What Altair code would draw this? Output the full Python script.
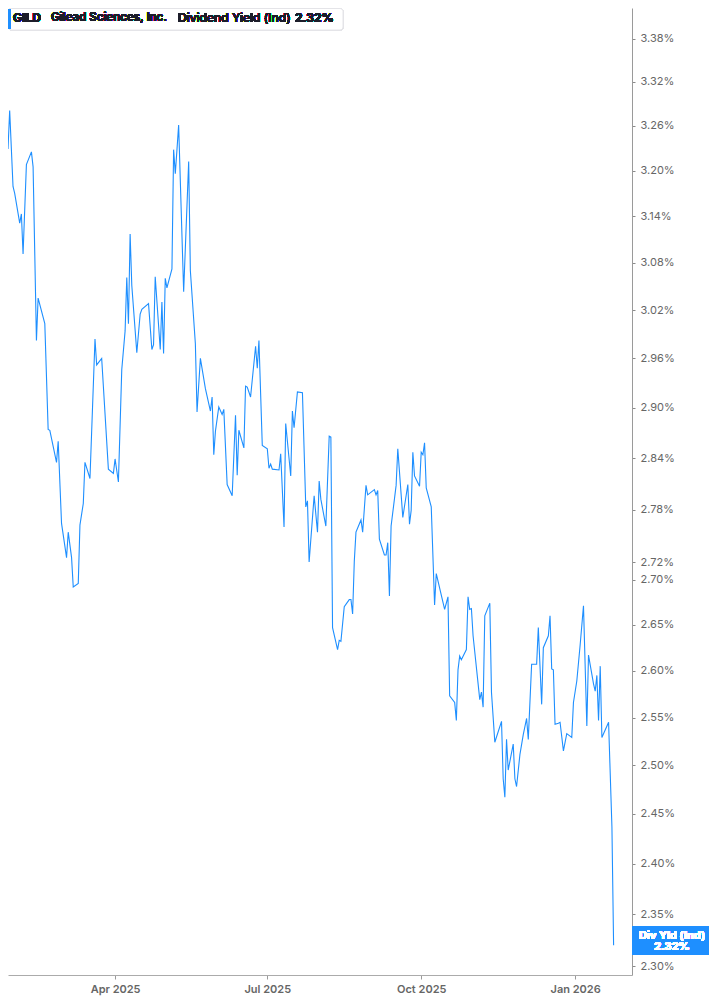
import altair as alt
import pandas as pd

# GILD indicated dividend yield (%)
dates = [
    "2025-01-27", "2025-01-28", "2025-01-30", "2025-01-31", "2025-02-03", "2025-02-04",
    "2025-02-05", "2025-02-07", "2025-02-10", "2025-02-11", "2025-02-13", "2025-02-14",
    "2025-02-18", "2025-02-20", "2025-02-21", "2025-02-25", "2025-02-26", "2025-02-28",
    "2025-03-03", "2025-03-04", "2025-03-06", "2025-03-07", "2025-03-10", "2025-03-11",
    "2025-03-13", "2025-03-14", "2025-03-17", "2025-03-20", "2025-03-21", "2025-03-24",
    "2025-03-28", "2025-03-31", "2025-04-01", "2025-04-03", "2025-04-05", "2025-04-07",
    "2025-04-08", "2025-04-09", "2025-04-10", "2025-04-11", "2025-04-14", "2025-04-16",
    "2025-04-17", "2025-04-21", "2025-04-23", "2025-04-24", "2025-04-25", "2025-04-28",
    "2025-04-29", "2025-04-30", "2025-05-01", "2025-05-02", "2025-05-05", "2025-05-06",
    "2025-05-07", "2025-05-08", "2025-05-09", "2025-05-12", "2025-05-15", "2025-05-16",
    "2025-05-19", "2025-05-20", "2025-05-22", "2025-05-25", "2025-05-28", "2025-05-29",
    "2025-05-30", "2025-05-31", "2025-06-02", "2025-06-04", "2025-06-05", "2025-06-07",
    "2025-06-10", "2025-06-12", "2025-06-13", "2025-06-14", "2025-06-17", "2025-06-18",
    "2025-06-19", "2025-06-21", "2025-06-24", "2025-06-25", "2025-06-26", "2025-06-28",
    "2025-07-01", "2025-07-02", "2025-07-03", "2025-07-04", "2025-07-08", "2025-07-09",
    "2025-07-11", "2025-07-12", "2025-07-15", "2025-07-16", "2025-07-17", "2025-07-19",
    "2025-07-22", "2025-07-24", "2025-07-25", "2025-07-26", "2025-07-29", "2025-07-31",
    "2025-08-01", "2025-08-02", "2025-08-05", "2025-08-07", "2025-08-08", "2025-08-09",
    "2025-08-12", "2025-08-13", "2025-08-14", "2025-08-16", "2025-08-19", "2025-08-20",
    "2025-08-21", "2025-08-22", "2025-08-23", "2025-08-26", "2025-08-27", "2025-08-29",
    "2025-08-30", "2025-09-03", "2025-09-04", "2025-09-05", "2025-09-06", "2025-09-09",
    "2025-09-10", "2025-09-11", "2025-09-12", "2025-09-13", "2025-09-16", "2025-09-17",
    "2025-09-20", "2025-09-23", "2025-09-24", "2025-09-25", "2025-09-26", "2025-09-27",
    "2025-09-30", "2025-10-01", "2025-10-02", "2025-10-03", "2025-10-04", "2025-10-07",
    "2025-10-09", "2025-10-10", "2025-10-15", "2025-10-17", "2025-10-18", "2025-10-21",
    "2025-10-22", "2025-10-23", "2025-10-24", "2025-10-25", "2025-10-28", "2025-10-29",
    "2025-10-30", "2025-10-31", "2025-11-01", "2025-11-05", "2025-11-06", "2025-11-07",
    "2025-11-08", "2025-11-11", "2025-11-12", "2025-11-14", "2025-11-18", "2025-11-19",
    "2025-11-20", "2025-11-21", "2025-11-22", "2025-11-25", "2025-11-26", "2025-11-27",
    "2025-11-29", "2025-12-01", "2025-12-03", "2025-12-04", "2025-12-06", "2025-12-09",
    "2025-12-10", "2025-12-12", "2025-12-13", "2025-12-16", "2025-12-17", "2025-12-18",
    "2025-12-19", "2025-12-20", "2025-12-22", "2025-12-23", "2025-12-25", "2025-12-27",
    "2025-12-30", "2025-12-31", "2026-01-02", "2026-01-04", "2026-01-06", "2026-01-08",
    "2026-01-09", "2026-01-12", "2026-01-13", "2026-01-14", "2026-01-15", "2026-01-16",
    "2026-01-17", "2026-01-21", "2026-01-23", "2026-01-24",
]
yields = [
    3.229, 3.281, 3.179, 3.170, 3.131, 3.143,
    3.091, 3.208, 3.225, 3.205, 2.982, 3.035,
    3.003, 2.874, 2.873, 2.835, 2.860, 2.764,
    2.725, 2.754, 2.725, 2.692, 2.696, 2.762,
    2.787, 2.835, 2.816, 2.984, 2.952, 2.960,
    2.827, 2.822, 2.839, 2.812, 2.946, 2.994,
    3.061, 3.003, 3.117, 3.051, 2.967, 3.015,
    3.021, 3.028, 2.971, 2.977, 3.062, 2.971,
    3.030, 2.966, 3.060, 3.048, 3.072, 3.228,
    3.196, 3.228, 3.261, 3.043, 3.212, 3.070,
    2.978, 2.895, 2.960, 2.923, 2.896, 2.913,
    2.844, 2.872, 2.901, 2.892, 2.898, 2.809,
    2.796, 2.891, 2.820, 2.873, 2.852, 2.926,
    2.925, 2.913, 2.975, 2.948, 2.982, 2.855,
    2.851, 2.828, 2.833, 2.827, 2.826, 2.845,
    2.760, 2.881, 2.819, 2.896, 2.876, 2.919,
    2.918, 2.783, 2.790, 2.720, 2.796, 2.754,
    2.813, 2.792, 2.761, 2.866, 2.865, 2.647,
    2.623, 2.633, 2.632, 2.670, 2.678, 2.678,
    2.662, 2.721, 2.754, 2.768, 2.754, 2.808,
    2.797, 2.803, 2.797, 2.802, 2.746, 2.728,
    2.728, 2.742, 2.682, 2.761, 2.808, 2.851,
    2.771, 2.809, 2.763, 2.779, 2.847, 2.819,
    2.807, 2.847, 2.844, 2.858, 2.805, 2.783,
    2.672, 2.707, 2.667, 2.681, 2.573, 2.566,
    2.547, 2.601, 2.616, 2.612, 2.623, 2.681,
    2.667, 2.668, 2.638, 2.569, 2.577, 2.561,
    2.660, 2.674, 2.577, 2.524, 2.546, 2.486,
    2.467, 2.527, 2.495, 2.522, 2.486, 2.478,
    2.511, 2.532, 2.549, 2.527, 2.607, 2.607,
    2.647, 2.564, 2.625, 2.638, 2.660, 2.602,
    2.601, 2.543, 2.544, 2.545, 2.515, 2.533,
    2.529, 2.566, 2.589, 2.628, 2.671, 2.541,
    2.617, 2.586, 2.578, 2.595, 2.547, 2.605,
    2.529, 2.545, 2.437, 2.320,
]

y_ticks = [2.30, 2.35, 2.40, 2.45, 2.50, 2.55, 2.60, 2.65, 2.70, 2.72, 2.78,
           2.84, 2.90, 2.96, 3.02, 3.08, 3.14, 3.20, 3.26, 3.32, 3.38]
x_ticks = [(2025, 4), (2025, 7), (2025, 10), (2026, 1)]

ticker = "GILD"
company = "Gilead Sciences, Inc."
metric = "Dividend Yield (Ind)"
last_label = "2.32%"

_BLUE = "#1e8fff"
_INK = "#1c1d2a"
_FONT = "Inter"

W, H = 624, 967
RIGHT = 77  # keeps the whole svg inside the 701px body

df = pd.DataFrame({"date": pd.to_datetime(dates), "yield": yields})

line = (
    alt.Chart(df)
    .mark_line(color=_BLUE, strokeWidth=1.1, clip=True)
    .encode(
        x=alt.X(
            "date:T",
            title=None,
            scale=alt.Scale(domain=[alt.DateTime(year=2025, month=1, date=27),
                                    alt.DateTime(year=2026, month=2, date=4)]),
            axis=alt.Axis(
                values=[alt.DateTime(year=y, month=m, date=1) for y, m in x_ticks],
                format="%b %Y",
                grid=False,
                tickSize=4,
                tickColor="#9a9a9a",
                domainColor="#ababab",
                labelColor="#666666",
                labelFont=_FONT,
                labelFontSize=11,
                labelFontWeight=600,
                labelPadding=4,
            ),
        ),
        y=alt.Y(
            "yield:Q",
            title=None,
            scale=alt.Scale(type="log", domain=[2.2915, 3.4235], nice=False, zero=False),
            axis=alt.Axis(
                orient="right",
                values=y_ticks,
                labelExpr="format(datum.value, '.2f') + '%'",
                grid=False,
                tickSize=3,
                tickColor="#8a8a8a",
                domainColor="#9a9a9a",
                labelColor="#666666",
                labelFont=_FONT,
                labelFontSize=11,
                labelPadding=5,
            ),
        ),
    )
)

# header legend box, top-left
header_box = alt.Chart(df).mark_rect(
    fill="white", stroke="#e4e4e8", strokeWidth=1, cornerRadius=3
).encode(x=alt.value(0.5), x2=alt.value(335), y=alt.value(0.5), y2=alt.value(22))
header_bar = alt.Chart(df).mark_rect(fill=_BLUE, cornerRadius=1).encode(
    x=alt.value(0), x2=alt.value(3), y=alt.value(1), y2=alt.value(21)
)


def _header_text(text, x, weight, size=12):
    return alt.Chart(df).mark_text(
        text=text, align="left", baseline="middle", font=_FONT, fontSize=size,
        fontWeight=weight, color=_INK,
    ).encode(x=alt.value(x), y=alt.value(10))


header = (
    header_box + header_bar
    + _header_text(ticker, 5, "bold")
    + _header_text(company, 43, 600, 11.5)
    + _header_text(metric, 170, 500)
    + _header_text(last_label, 287, "bold")
)

# last value tag on the right axis
tag_box = alt.Chart(df).mark_rect(fill=_BLUE).encode(
    x=alt.value(W + 0.5), x2=alt.value(W + RIGHT), y=alt.value(918), y2=alt.value(947)
)
tag_text = (
    alt.Chart(df).mark_text(text="Div Yld (Ind)", align="center", baseline="middle",
                            font=_FONT, fontSize=11, fontWeight="bold", color="white")
    .encode(x=alt.value(664), y=alt.value(927.5))
    + alt.Chart(df).mark_text(text=last_label, align="center", baseline="middle",
                              font=_FONT, fontSize=11, fontWeight="bold", color="white")
    .encode(x=alt.value(664), y=alt.value(938.5))
)

chart = (
    alt.layer(line, header, tag_box, tag_text)
    .properties(
        width=W,
        height=H,
        autosize=alt.AutoSizeParams(type="none"),
        padding={"left": 0, "top": 0, "right": RIGHT, "bottom": 22},
        background="white",
    )
    .configure_view(stroke=None)
)

chart.save("out.html", embed_options={"renderer": "svg", "actions": False})
